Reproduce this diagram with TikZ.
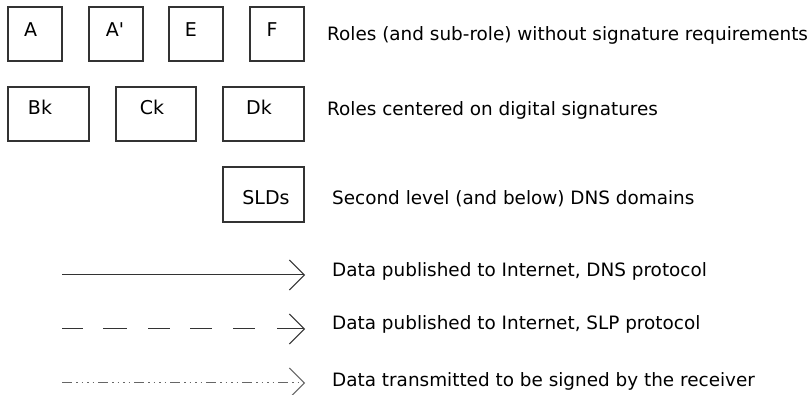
\documentclass[tikz,border=0pt]{standalone}
\usepackage{fontspec}
\setmainfont{DejaVu Sans}[Ligatures=TeXOff]
\usetikzlibrary{arrows.meta}
\tikzset{
  box/.style={draw=black!80, line width=1.2pt, minimum width=#1, minimum height=54pt, inner sep=0pt},
  box/.default=54pt,
  boxtxt/.style={anchor=base, inner sep=0pt, font=\fontsize{19}{22}\selectfont},
  legtxt/.style={anchor=base west, inner sep=0pt, font=\fontsize{18.4}{22}\selectfont},
  leg/.style={draw=black!80, line width=1pt, -{Straight Barb[length=15pt, width=30pt, line width=1pt]}},
}
\begin{document}
\begin{tikzpicture}[x=1pt, y=-1pt]
\useasboundingbox[fill=white] (0,0) rectangle (812,395);
% row 1
\node[box] (A)  at (35,34)  {};
\node[box] (A2) at (116,34) {};
\node[box] (E)  at (196,34) {};
\node[box] (F)  at (277,34) {};
\node[boxtxt] (tA)  at (30.5,37) {A};
\node[boxtxt] (tA2) at (115,37) {A'};
\node[boxtxt] (tE)  at (191,37) {E};
\node[boxtxt] (tF)  at (272,37) {F};
% row 2
\node[box=81pt] (Bk) at (48.5,114) {};
\node[box=80pt] (Ck) at (156,114) {};
\node[box=81pt] (Dk) at (263.5,114) {};
\node[boxtxt] (tBk) at (40,115) {Bk};
\node[boxtxt] (tCk) at (152,115) {Ck};
\node[boxtxt] (tDk) at (259,115) {Dk};
% SLDs
\node[box=81pt, minimum height=55pt] (SLD) at (263.5,194.5) {};
\node[boxtxt] (tSLD) at (266,205) {SLDs};
% legend texts
\node[legtxt] (l1) at (327,41)  {Roles (and sub-role) without signature requirements};
\node[legtxt] (l2) at (327,116) {Roles centered on digital signatures};
\node[legtxt] (l3) at (332,205) {Second level (and below) DNS domains};
\node[legtxt] (l4) at (332,277) {Data published to Internet, DNS protocol};
\node[legtxt] (l5) at (332,330) {Data published to Internet, SLP protocol};
\node[legtxt] (l6) at (332,387) {Data transmitted to be signed by the receiver};
% legend arrows
\coordinate (s1) at (62,275);  \coordinate (e1) at (305,275);
\coordinate (s2) at (62,329);  \coordinate (e2) at (305,329);
\coordinate (s3) at (62,383);  \coordinate (e3) at (305,383);
\draw[leg] (s1) -- (e1);
\draw[leg, dash pattern=on 21pt off 20pt on 24pt off 21pt on 22pt off 20pt on 22pt off 21pt on 22pt off 22pt on 40pt] (s2) -- (e2);
\draw[leg, draw=black!60, dash pattern=on 10pt off 4pt on 1.5pt off 4pt on 1.5pt off 4pt on 1.5pt off 4pt on 1.5pt off 4pt] (s3) -- (e3);
\end{tikzpicture}
\end{document}
